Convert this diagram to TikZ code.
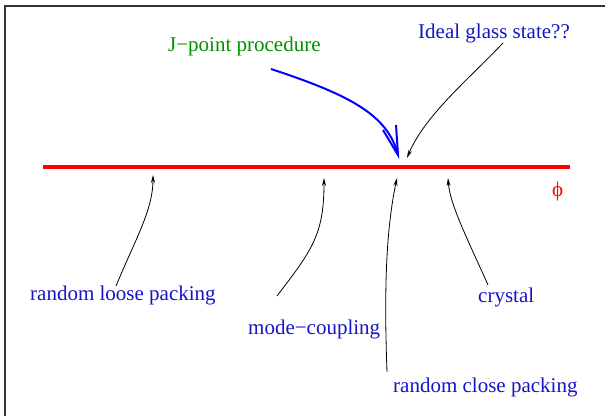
\documentclass[tikz,border=0pt]{standalone}
\usepackage{fontspec}
\setmainfont{Liberation Serif}
\usetikzlibrary{arrows.meta}
\definecolor{figblue}{RGB}{20,20,200}
\definecolor{figgreen}{RGB}{0,144,0}
\begin{document}
\begin{tikzpicture}[x=1pt,y=-1pt,
  lbl/.style={font=\fontsize{21}{21}\selectfont, inner sep=0pt, anchor=base west, text=figblue},
  ptr/.style={black, line width=0.8pt, -{Stealth[length=8pt,width=4pt]}},
  bigline/.style={blue, line width=2pt},
]
\useasboundingbox (0,0) rectangle (605,415);
% frame
\draw[line width=1.3pt, black!80] (5,420) -- (5,6) -- (607,6);
% axis
\coordinate (L) at (43,167);
\coordinate (R) at (570,167);
\draw[red, line width=3.5pt] (L) -- (R);
% labels
\node[lbl] (rlp) at (30,300) {random loose packing};
\node[lbl] (mc) at (248,334) {mode−coupling};
\node[lbl] (cry) at (478,302) {crystal};
\node[lbl] (rcp) at (393,392) {random close packing};
\node[lbl] (igs) at (418,38) {Ideal glass state??};
\node[lbl, text=figgreen] (jp) at (168,51) {J−point procedure};
\node[lbl, text=red] (phi) at (552,196) {ϕ};
% arrow ends
\coordinate (s1) at (116,286); \coordinate (t1) at (153,175);
\coordinate (s2) at (277,296); \coordinate (t2) at (324,178);
\coordinate (s3) at (387,372); \coordinate (t3) at (397,178);
\coordinate (s4) at (488,285); \coordinate (t4) at (448,178);
\coordinate (s5) at (503,43);  \coordinate (t5) at (407,158);
\coordinate (s6) at (271,69);  \coordinate (t6) at (398,155);
\coordinate (b1) at (383,130); \coordinate (b2) at (396,125);
\draw[ptr] (s1) .. controls (135,240) and (153,210) .. (t1);
\draw[ptr] (s2) .. controls (312,250) and (324,235) .. (t2);
\draw[ptr] (s3) .. controls (384,290) and (386,230) .. (t3);
\draw[ptr] (s4) .. controls (468,240) and (450,205) .. (t4);
\draw[ptr] (s5) .. controls (470,78) and (425,115) .. (t5);
\draw[bigline] (s6) .. controls (350,95) and (388,115) .. (t6);
\draw[bigline, miter limit=20] (b1) -- (t6) -- (b2);
\end{tikzpicture}
\end{document}
